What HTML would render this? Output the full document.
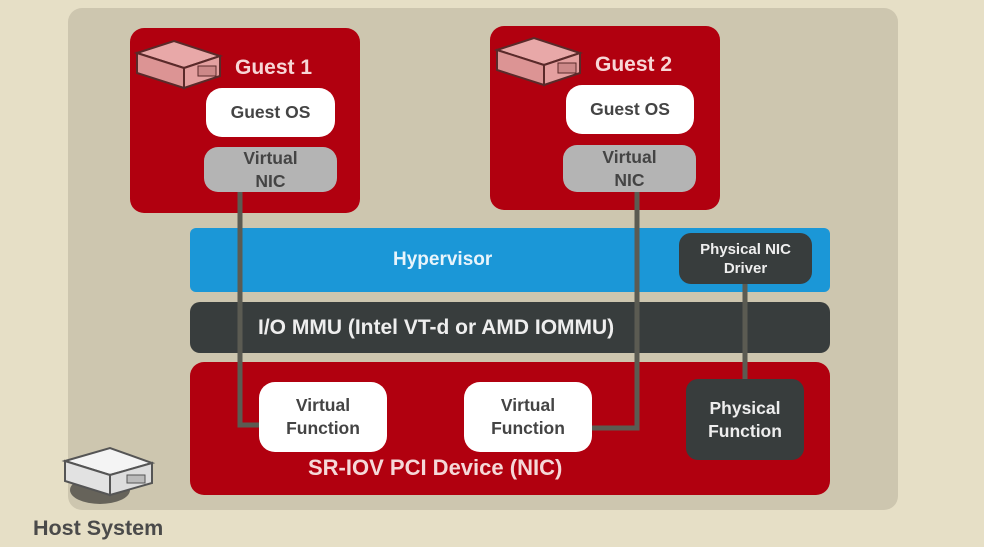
<!DOCTYPE html>
<html><head><style>
body{margin:0;width:984px;height:547px;background:#e6dfc6;position:relative;overflow:hidden;font-family:"Liberation Sans",sans-serif;font-weight:bold}
div{position:absolute;box-sizing:border-box}
.c{display:flex;align-items:center;justify-content:center;text-align:center}
.red{background:#b1000f;border-radius:14px}
.w{background:#fff;border-radius:16px;color:#444;font-size:17.5px;line-height:23px}
.g{background:#b4b4b4;border-radius:14px;color:#444;font-size:17.5px;line-height:23px}
.dk{background:#383d3d;color:#eee;border-radius:12px}
</style></head><body>
<div style="left:68px;top:8px;width:830px;height:502px;background:#cdc6af;border-radius:14px"></div>
<div class="red" style="left:130px;top:28px;width:230px;height:185px"></div>
<div class="red" style="left:490px;top:26px;width:230px;height:184px"></div>
<div style="left:235px;top:56px;color:#f7d6d6;font-size:21px">Guest 1</div>
<div style="left:595px;top:53px;color:#f7d6d6;font-size:21px">Guest 2</div>
<svg style="position:absolute;left:134px;top:38px" width="90" height="52"><polygon points="3,15 40,3 86,18 50,30" fill="#e8a8a8" stroke="#5a2a2a" stroke-width="2"/><polygon points="3,15 50,30 50,50 3,35" fill="#dc9494" stroke="#5a2a2a" stroke-width="2"/><polygon points="50,30 86,18 86,38 50,50" fill="#e4a0a0" stroke="#5a2a2a" stroke-width="2"/><rect x="64" y="28" width="18" height="10" fill="#c88" stroke="#5a2a2a"/></svg>
<svg style="position:absolute;left:494px;top:35px" width="90" height="52"><polygon points="3,15 40,3 86,18 50,30" fill="#e8a8a8" stroke="#5a2a2a" stroke-width="2"/><polygon points="3,15 50,30 50,50 3,35" fill="#dc9494" stroke="#5a2a2a" stroke-width="2"/><polygon points="50,30 86,18 86,38 50,50" fill="#e4a0a0" stroke="#5a2a2a" stroke-width="2"/><rect x="64" y="28" width="18" height="10" fill="#c88" stroke="#5a2a2a"/></svg>
<div class="w c" style="left:206px;top:88px;width:129px;height:49px">Guest OS</div>
<div class="g c" style="left:204px;top:147px;width:133px;height:45px">Virtual<br>NIC</div>
<div class="w c" style="left:566px;top:85px;width:128px;height:49px">Guest OS</div>
<div class="g c" style="left:563px;top:145px;width:133px;height:47px">Virtual<br>NIC</div>
<div class="c" style="left:190px;top:228px;width:640px;height:64px;background:#1b97d7;border-radius:6px;color:#e8f4fb;font-size:19px;justify-content:flex-start;padding-left:203px">Hypervisor</div>
<div class="dk c" style="left:679px;top:233px;width:133px;height:51px;font-size:15px;line-height:19px">Physical NIC<br>Driver</div>
<div class="dk c" style="left:190px;top:302px;width:640px;height:51px;font-size:21px;justify-content:flex-start;padding-left:68px;border-radius:10px">I/O MMU (Intel VT-d or AMD IOMMU)</div>
<div class="red" style="left:190px;top:362px;width:640px;height:133px"></div>
<div style="left:308px;top:455px;color:#f5d8d8;font-size:22px">SR-IOV PCI Device (NIC)</div>
<svg style="position:absolute;left:0;top:0" width="984" height="547"><path d="M240,192 V425 H262" fill="none" stroke="#5b5b52" stroke-width="5"/><path d="M637,192 V428 H590" fill="none" stroke="#5b5b52" stroke-width="5"/><path d="M745,284 V381" fill="none" stroke="#5b5b52" stroke-width="5"/></svg>
<div class="w c" style="left:259px;top:382px;width:128px;height:70px">Virtual<br>Function</div>
<div class="w c" style="left:464px;top:382px;width:128px;height:70px">Virtual<br>Function</div>
<div class="dk c" style="left:686px;top:379px;width:118px;height:81px;font-size:17.5px;line-height:23px">Physical<br>Function</div>
<svg style="position:absolute;left:55px;top:445px" width="105" height="65"><ellipse cx="45" cy="45" rx="30" ry="14" fill="#222" opacity=".6"/><polygon points="10,16 55,3 97,18 55,30" fill="#f4f4f4" stroke="#555" stroke-width="2"/><polygon points="10,16 55,30 55,50 10,36" fill="#e2e2e2" stroke="#555" stroke-width="2"/><polygon points="55,30 97,18 97,38 55,50" fill="#ddd" stroke="#555" stroke-width="2"/><rect x="72" y="30" width="18" height="8" fill="#bbb" stroke="#555"/></svg>
<div style="left:33px;top:516px;color:#4a4a4a;font-size:21.5px">Host System</div>
</body></html>
